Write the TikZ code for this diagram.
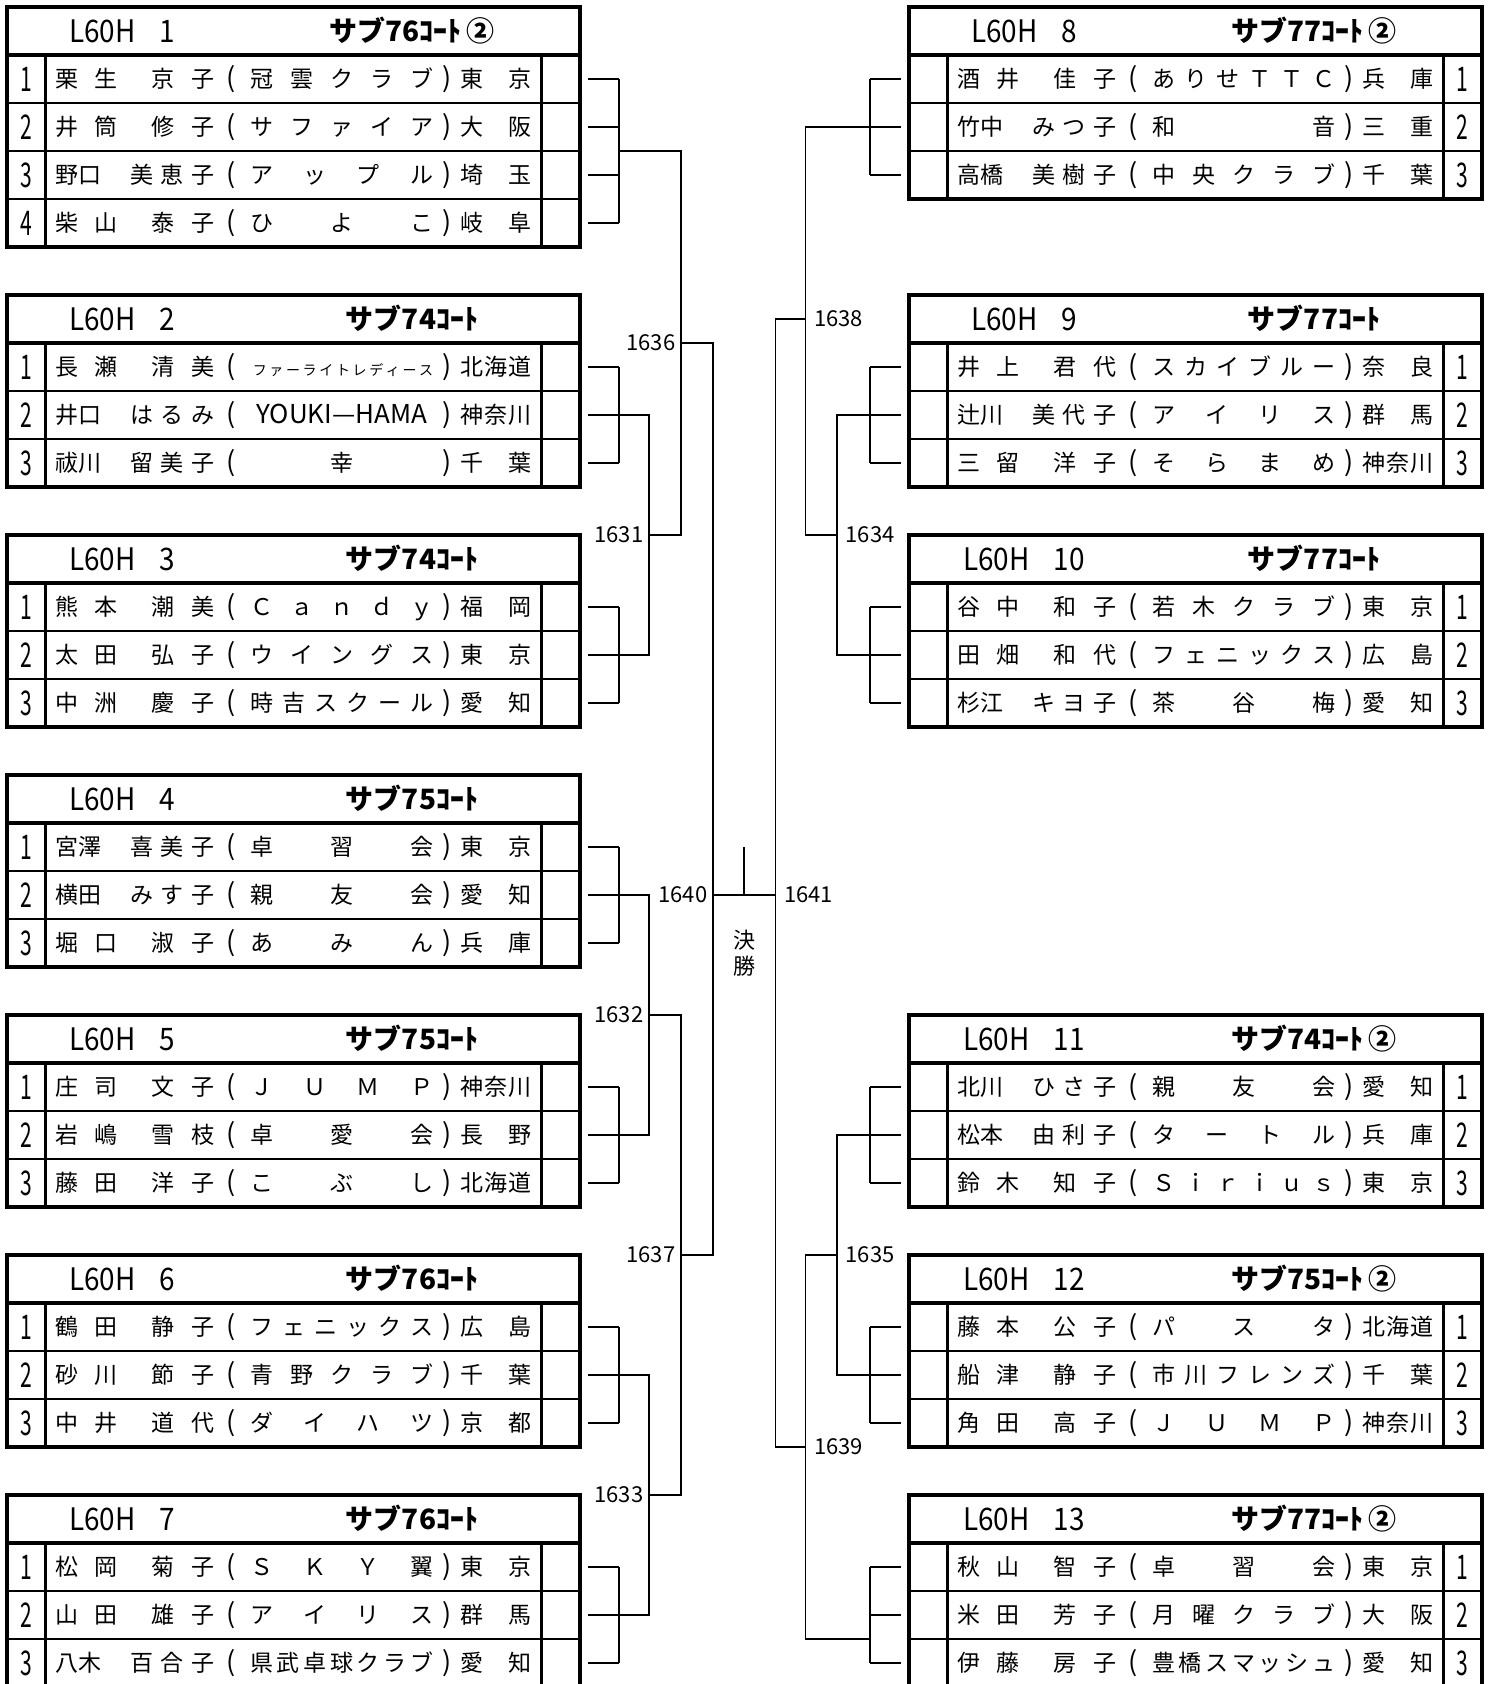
\documentclass[tikz,border=0pt]{standalone}
\usepackage{fontspec}
\setmainfont{Noto Sans CJK JP}
\newfontfamily\narrowfont[FakeStretch=0.62]{Noto Sans CJK JP}
\newfontfamily\hdrfont[FakeStretch=0.9]{Noto Sans CJK JP}
\usetikzlibrary{positioning}

% 文字を均等に割り付ける
\def\spreadA#1#2\relax{#1\ifx\relax#2\relax\else\hfill\spreadA#2\relax\fi}
\newcommand\dist[1]{\spreadA#1\relax}
\newcommand\nmS[2]{\dist{#1}\hfill\hfill\dist{#2}}
\newcommand\nmC[2]{#1\hfill\hfill\hfill\hfill\dist{#2}}
\newcommand\smallkana{\fontsize{14}{14}\selectfont}
\newcommand\biglatin{\fontsize{26}{26}\selectfont}

% 枠と行
\newcommand\entryframe[1]{%
  \foreach \i in {2,...,#1}
    \draw[rowline] (0,{48*\i}) -- (573,{48*\i});
  \draw[boxline] (0,0) rectangle (573,{48*(#1+1)});
  \draw[boxline] (0,48) -- (573,48);
  \draw[boxline] (38.5,48) -- (38.5,{48*(#1+1)});
  \draw[boxline] (534.5,48) -- (534.5,{48*(#1+1)});
}
\newcommand\entryhead[3]{%
  \node[headtxt] (#1h) at (115,24) {L60H\hspace{24pt}#2};
  \node[courttxt] (#1c) at (405,24) {#3};
}
\newcommand\entryrow[5]{%
  \node[rownum] (#1n#2) at (\numx,{48*#2+24}) {#2};
  \node[rowtxt] (#1p#2) at (48,{48*#2+24}) {\makebox[159pt][s]{#3}};
  \node[rowtxt,paren] (#1q#2) at (224,{48*#2+24}) {(};
  \node[rowtxt] (#1k#2) at (243,{48*#2+24}) {\makebox[183pt][s]{\dist{#4}}};
  \node[rowtxt,paren] (#1r#2) at (440,{48*#2+24}) {)};
  \node[rowtxt] (#1f#2) at (453,{48*#2+24}) {\makebox[71pt][s]{\dist{#5}}};
}
\newcommand\entrystubs[4]{%
  \foreach \i in {1,...,#2} {
    \coordinate (#1s\i) at (#3,{48*\i+24});
    \coordinate (#1t\i) at (#4,{48*\i+24});
    \draw[bline] (#1s\i) -- (#1t\i);
  }
  \draw[bline] (#1t1) -- (#1t#2);
}

\begin{document}
\begin{tikzpicture}[x=1pt, y=-1pt,
    boxline/.style={line width=3.2pt},
    rowline/.style={line width=1.2pt},
    bline/.style={line width=1.3pt},
    rowtxt/.style={font=\fontsize{23}{23}\selectfont, anchor=west, inner sep=0pt, text height=20pt, text depth=3pt},
    paren/.style={anchor=center, font=\fontsize{27}{27}\selectfont},
    rownum/.style={font=\narrowfont\fontsize{34}{34}\selectfont, inner sep=0pt},
    headtxt/.style={font=\hdrfont\fontsize{31}{31}\selectfont, inner sep=0pt},
    courttxt/.style={font=\bfseries\fontsize{28}{28}\selectfont, inner sep=0pt, text height=24.6pt, text depth=3.4pt},
    mlabel/.style={font=\fontsize{22}{26}\selectfont, inner sep=0.5pt}]
    \useasboundingbox (0,0) rectangle (1491,1684);
    \clip (0,0) rectangle (1491,1684);

    % 左ブロック L60H 1
    \begin{scope}[shift={(7,7)}]
        \def\numx{19}
        \entryframe{4}
        \entryhead{L1}{1}{サブ76ｺｰﾄ\,②}
        \entryrow{L1}{1}{\nmS{栗生}{京子}}{冠雲クラブ}{東京}
        \entryrow{L1}{2}{\nmS{井筒}{修子}}{サファイア}{大阪}
        \entryrow{L1}{3}{\nmC{野口}{美恵子}}{アップル}{埼玉}
        \entryrow{L1}{4}{\nmS{柴山}{泰子}}{ひよこ}{岐阜}
        \entrystubs{L1}{4}{581}{612}
        \coordinate (L1out) at (612,144);
    \end{scope}

    % L60H 2
    \begin{scope}[shift={(7,295)}]
        \def\numx{19}
        \entryframe{3}
        \entryhead{L2}{2}{サブ74ｺｰﾄ}
        \entryrow{L2}{1}{\nmS{長瀬}{清美}}{\smallkana ファーライトレディース}{北海道}
        \entryrow{L2}{2}{\nmC{井口}{はるみ}}{{\hfill\biglatin YOUKI—HAMA\hfill}}{神奈川}
        \entryrow{L2}{3}{\nmC{祓川}{留美子}}{\hfill 幸\hfill}{千葉}
        \entrystubs{L2}{3}{581}{612}
    \end{scope}

    % L60H 3
    \begin{scope}[shift={(7,535)}]
        \def\numx{19}
        \entryframe{3}
        \entryhead{L3}{3}{サブ74ｺｰﾄ}
        \entryrow{L3}{1}{\nmS{熊本}{潮美}}{Ｃａｎｄｙ}{福岡}
        \entryrow{L3}{2}{\nmS{太田}{弘子}}{ウイングス}{東京}
        \entryrow{L3}{3}{\nmS{中洲}{慶子}}{時吉スクール}{愛知}
        \entrystubs{L3}{3}{581}{612}
    \end{scope}

    % L60H 4
    \begin{scope}[shift={(7,775)}]
        \def\numx{19}
        \entryframe{3}
        \entryhead{L4}{4}{サブ75ｺｰﾄ}
        \entryrow{L4}{1}{\nmC{宮澤}{喜美子}}{卓習会}{東京}
        \entryrow{L4}{2}{\nmC{横田}{みす子}}{親友会}{愛知}
        \entryrow{L4}{3}{\nmS{堀口}{淑子}}{あみん}{兵庫}
        \entrystubs{L4}{3}{581}{612}
    \end{scope}

    % L60H 5
    \begin{scope}[shift={(7,1015)}]
        \def\numx{19}
        \entryframe{3}
        \entryhead{L5}{5}{サブ75ｺｰﾄ}
        \entryrow{L5}{1}{\nmS{庄司}{文子}}{ＪＵＭＰ}{神奈川}
        \entryrow{L5}{2}{\nmS{岩嶋}{雪枝}}{卓愛会}{長野}
        \entryrow{L5}{3}{\nmS{藤田}{洋子}}{こぶし}{北海道}
        \entrystubs{L5}{3}{581}{612}
    \end{scope}

    % L60H 6
    \begin{scope}[shift={(7,1255)}]
        \def\numx{19}
        \entryframe{3}
        \entryhead{L6}{6}{サブ76ｺｰﾄ}
        \entryrow{L6}{1}{\nmS{鶴田}{静子}}{フェニックス}{広島}
        \entryrow{L6}{2}{\nmS{砂川}{節子}}{青野クラブ}{千葉}
        \entryrow{L6}{3}{\nmS{中井}{道代}}{ダイハツ}{京都}
        \entrystubs{L6}{3}{581}{612}
    \end{scope}

    % L60H 7
    \begin{scope}[shift={(7,1495)}]
        \def\numx{19}
        \entryframe{3}
        \entryhead{L7}{7}{サブ76ｺｰﾄ}
        \entryrow{L7}{1}{\nmS{松岡}{菊子}}{ＳＫＹ翼}{東京}
        \entryrow{L7}{2}{\nmS{山田}{雄子}}{アイリス}{群馬}
        \entryrow{L7}{3}{\nmC{八木}{百合子}}{県武卓球クラブ}{愛知}
        \entrystubs{L7}{3}{581}{612}
    \end{scope}

    % 右ブロック L60H 8
    \begin{scope}[shift={(909,7)}]
        \def\numx{553.5}
        \entryframe{3}
        \entryhead{R8}{8}{サブ77ｺｰﾄ\,②}
        \entryrow{R8}{1}{\nmS{酒井}{佳子}}{ありせＴＴＣ}{兵庫}
        \entryrow{R8}{2}{\nmC{竹中}{みつ子}}{和音}{三重}
        \entryrow{R8}{3}{\nmC{高橋}{美樹子}}{中央クラブ}{千葉}
        \entrystubs{R8}{3}{-8}{-39}
    \end{scope}

    % L60H 9
    \begin{scope}[shift={(909,295)}]
        \def\numx{553.5}
        \entryframe{3}
        \entryhead{R9}{9}{サブ77ｺｰﾄ}
        \entryrow{R9}{1}{\nmS{井上}{君代}}{スカイブルー}{奈良}
        \entryrow{R9}{2}{\nmC{辻川}{美代子}}{アイリス}{群馬}
        \entryrow{R9}{3}{\nmS{三留}{洋子}}{そらまめ}{神奈川}
        \entrystubs{R9}{3}{-8}{-39}
    \end{scope}

    % L60H 10
    \begin{scope}[shift={(909,535)}]
        \def\numx{553.5}
        \entryframe{3}
        \entryhead{R10}{10}{サブ77ｺｰﾄ}
        \entryrow{R10}{1}{\nmS{谷中}{和子}}{若木クラブ}{東京}
        \entryrow{R10}{2}{\nmS{田畑}{和代}}{フェニックス}{広島}
        \entryrow{R10}{3}{\nmC{杉江}{キヨ子}}{茶谷梅}{愛知}
        \entrystubs{R10}{3}{-8}{-39}
    \end{scope}

    % L60H 11
    \begin{scope}[shift={(909,1015)}]
        \def\numx{553.5}
        \entryframe{3}
        \entryhead{R11}{11}{サブ74ｺｰﾄ\,②}
        \entryrow{R11}{1}{\nmC{北川}{ひさ子}}{親友会}{愛知}
        \entryrow{R11}{2}{\nmC{松本}{由利子}}{タートル}{兵庫}
        \entryrow{R11}{3}{\nmS{鈴木}{知子}}{Ｓｉｒｉｕｓ}{東京}
        \entrystubs{R11}{3}{-8}{-39}
    \end{scope}

    % L60H 12
    \begin{scope}[shift={(909,1255)}]
        \def\numx{553.5}
        \entryframe{3}
        \entryhead{R12}{12}{サブ75ｺｰﾄ\,②}
        \entryrow{R12}{1}{\nmS{藤本}{公子}}{パスタ}{北海道}
        \entryrow{R12}{2}{\nmS{船津}{静子}}{市川フレンズ}{千葉}
        \entryrow{R12}{3}{\nmS{角田}{高子}}{ＪＵＭＰ}{神奈川}
        \entrystubs{R12}{3}{-8}{-39}
    \end{scope}

    % L60H 13
    \begin{scope}[shift={(909,1495)}]
        \def\numx{553.5}
        \entryframe{3}
        \entryhead{R13}{13}{サブ77ｺｰﾄ\,②}
        \entryrow{R13}{1}{\nmS{秋山}{智子}}{卓習会}{東京}
        \entryrow{R13}{2}{\nmS{米田}{芳子}}{月曜クラブ}{大阪}
        \entryrow{R13}{3}{\nmS{伊藤}{房子}}{豊橋スマッシュ}{愛知}
        \entrystubs{R13}{3}{-8}{-39}
        \coordinate (R13out) at (-39,144);
    \end{scope}

    % 試合番号の分岐点
    \coordinate (j1631) at (649,535);
    \coordinate (j1632) at (649,1015);
    \coordinate (j1633) at (649,1495);
    \coordinate (j1636) at (681,343);
    \coordinate (j1637) at (681,1255);
    \coordinate (j1640) at (713,895);
    \coordinate (j1641) at (775.6,895);
    \coordinate (j1638) at (805.6,319);
    \coordinate (j1639) at (805.6,1447);
    \coordinate (j1634) at (837,535);
    \coordinate (j1635) at (837,1255);
    \coordinate (fin) at (744,847);

    % 左側のトーナメント線
    \draw[bline] (L1out) -| (j1636) |- (j1631);
    \draw[bline] (L2s2) -| (j1631) |- (L3s2);
    \draw[bline] (L4s2) -| (j1632) |- (L5s2);
    \draw[bline] (L6s2) -| (j1633) |- (L7s2);
    \draw[bline] (j1632) -| (j1637) |- (j1633);
    \draw[bline] (j1636) -| (j1640) |- (j1637);

    % 右側のトーナメント線
    \draw[bline] (R8s2) -| (j1638) |- (j1634);
    \draw[bline] (R9s2) -| (j1634) |- (R10s2);
    \draw[bline] (R11s2) -| (j1635) |- (R12s2);
    \draw[bline] (j1635) -| (j1639) |- (R13out);
    \draw[bline] (j1638) -| (j1641) |- (j1639);

    % 決勝
    \draw[bline] (j1640) -- (j1641);
    \draw[bline] (fin) -- (fin |- j1640);
    \node[mlabel, align=center] (final) at (744,953) {決\\勝};

    % 試合番号
    \node[mlabel, left=5pt of j1631] (n1631) {1631};
    \node[mlabel, left=5pt of j1632] (n1632) {1632};
    \node[mlabel, left=5pt of j1633] (n1633) {1633};
    \node[mlabel, left=5pt of j1636] (n1636) {1636};
    \node[mlabel, left=5pt of j1637] (n1637) {1637};
    \node[mlabel, left=5pt of j1640] (n1640) {1640};
    \node[mlabel, right=8pt of j1638] (n1638) {1638};
    \node[mlabel, right=8pt of j1634] (n1634) {1634};
    \node[mlabel, right=8pt of j1635] (n1635) {1635};
    \node[mlabel, right=8pt of j1639] (n1639) {1639};
    \node[mlabel, right=8pt of j1641] (n1641) {1641};
\end{tikzpicture}
\end{document}
